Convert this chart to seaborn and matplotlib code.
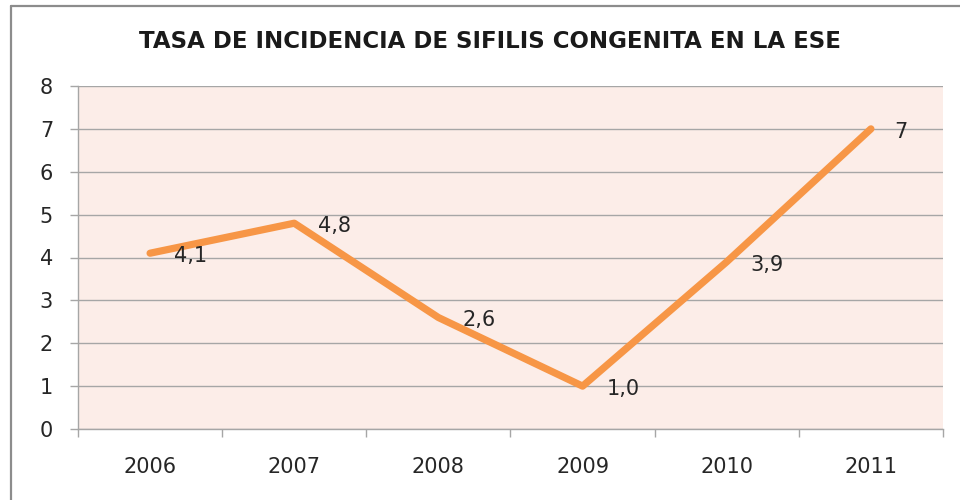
import matplotlib
matplotlib.use('Agg')
import matplotlib.pyplot as plt
from matplotlib.lines import Line2D
import seaborn as sns
import pandas as pd
import numpy as np

# data
years = ['2006', '2007', '2008', '2009', '2010', '2011']
tasa = [4.1, 4.8, 2.6, 1.0, 3.9, 7]
etiquetas = ['4,1', '4,8', '2,6', '1,0', '3,9', '7']

data = pd.DataFrame({'year': years, 'tasa': tasa})

sns.set_style('white', {'axes.facecolor': '#FCEDE8'})
plt.rcParams['font.family'] = ['DejaVu Sans']

fig = plt.figure(figsize=(9.6, 5), dpi=100)
ax = fig.add_axes([78/960, 1-429/500, 865/960, 343/500])

sns.lineplot(data=data, x='year', y='tasa', color='#F79646', linewidth=5.2,
             solid_capstyle='round', solid_joinstyle='round', ax=ax, zorder=3)

# data labels to the right of each point
for i, (v, lab) in enumerate(zip(tasa, etiquetas)):
    ax.annotate(lab, (i, v), xytext=(17, -2), textcoords='offset points',
                ha='left', va='center', fontsize=15, color='#262626', zorder=4)

ax.set_xlim(-0.5, len(years) - 0.5)
ax.set_ylim(0, 8)
ax.set_yticks(range(0, 9))
ax.set_xticks(range(len(years)))
ax.set_xticklabels(years)
ax.set_xticks(np.arange(-0.5, len(years)), minor=True)
ax.grid(axis='y', color='#A6A6A6', linewidth=1.0)
ax.set_axisbelow(True)
ax.set_xlabel('')
ax.set_ylabel('')

for s in ['top', 'right']:
    ax.spines[s].set_visible(False)
for s in ['left', 'bottom']:
    ax.spines[s].set_color('#A6A6A6')
    ax.spines[s].set_linewidth(1.0)

ax.tick_params(axis='y', which='major', length=6, width=1.0, color='#A6A6A6',
               labelsize=15, labelcolor='#262626', pad=12, left=True)
ax.tick_params(axis='x', which='major', length=0, labelsize=15,
               labelcolor='#262626', pad=20)
ax.tick_params(axis='x', which='minor', length=6, width=1.0, color='#A6A6A6',
               bottom=True)

fig.text(490/960, 1-42/500, 'TASA DE INCIDENCIA DE SIFILIS CONGENITA EN LA ESE',
         ha='center', va='center', fontsize=16.5, fontweight='bold', color='#1A1A1A')

# chart frame
fig.add_artist(Line2D([11/960, 11/960], [0, 1-6/500], color='#8C8C8C', linewidth=1.6))
fig.add_artist(Line2D([11/960, 1.01], [1-6/500, 1-6/500], color='#8C8C8C', linewidth=1.6))

fig.savefig('out.png', dpi=100)
